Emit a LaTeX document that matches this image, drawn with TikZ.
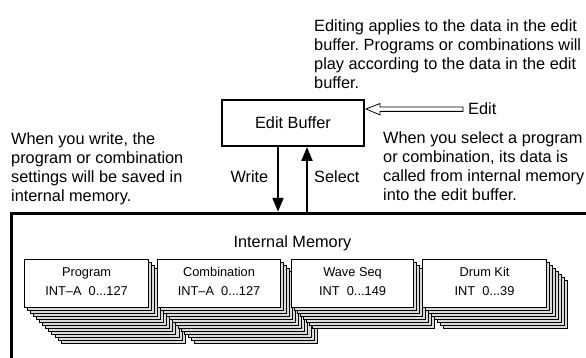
\documentclass[tikz,border=0pt]{standalone}
\usepackage{fontspec}
\setmainfont{Liberation Sans}
\usetikzlibrary{arrows.meta,calc}
\frenchspacing
\begin{document}
\begin{tikzpicture}[x=1pt,y=-1pt,
  txt/.style={font=\fontsize{16.3}{19}\selectfont, align=left, inner sep=0pt, anchor=north west},
  boxlbl/.style={font=\fontsize{16.3}{19}\selectfont, inner sep=0pt},
  ebox/.style={draw, line width=2pt, fill=white, minimum width=142pt, minimum height=46pt, font=\fontsize{16.3}{19}\selectfont},
  card/.style={draw, line width=1pt, fill=gray!30},
  topcard/.style={draw, line width=1.1pt, fill=white, anchor=north west, minimum width=124pt, minimum height=48pt, inner sep=0pt},
  cardtxt/.style={inner sep=0pt, align=center, font=\fontsize{12.8}{19}\selectfont},
  flow/.style={line width=2.2pt, -{Triangle[length=14pt,width=11pt]}},
  frame/.style={line width=3.2pt},
]
\useasboundingbox (0,0) rectangle (586,358);

% texts
\node[txt] (t1) at (314,19) {Editing applies to the data in the edit\\buffer. Programs or combinations will\\play according to the data in the edit\\buffer.};
\node[txt] (t2) at (11,132) {When you write, the\\program or combination\\settings will be saved in\\internal memory.};
\node[txt] (t3) at (383,131) {When you select a program\\or combination, its data is\\called from internal memory\\into the edit buffer.};

% edit buffer
\node[ebox] (eb) at (293,123) {Edit Buffer};

% edit hollow arrow
\coordinate (etip) at ([xshift=1pt]eb.east |- 0,109);
\node[boxlbl, anchor=west] (edit) at (468,109) {Edit};
\draw[line width=0.8pt, fill=white] (etip) -- ++(14,-5.5) -- ++(0,3.5) -- ++(83,0) -- ++(0,4.4) -- ++(-83,0) -- ++(0,3.5) -- cycle;

% memory frame
\coordinate (mtl) at (11.6,213.4);
\coordinate (mtr) at (590,213.4);
\coordinate (mbl) at (11.6,362);
\draw[frame] (mtr) -- (mtl) -- (mbl);
\node[boxlbl] (im) at (292.5,243) {Internal Memory};

% write / select
\coordinate (wtop) at ([xshift=-15pt]eb.south);
\coordinate (stop) at ([xshift=14pt]eb.south);
\coordinate (wbot) at (wtop |- 0,211.8);
\coordinate (sbot) at (stop |- 0,211.8);
\draw[flow] (wtop) -- (wbot);
\draw[flow] (sbot) -- (stop);
\node[boxlbl, anchor=east] (wl) at (268.5,177) {Write};
\node[boxlbl, anchor=west] (sl) at (314,177) {Select};

% card stacks
\foreach \k in {12,...,1} {
  \foreach \cx/\cw/\n in {24/124/12, 157/123/12, 291/122/7, 422/124/7} {
    \ifnum\k>\n\relax\else
      \draw[card] ({\cx+3.1*\k},{259+3.05*\k}) rectangle ++(\cw,48);
    \fi
  }
}
\node[topcard] (prog) at (24,259) {};
\node[topcard, minimum width=123pt] (comb) at (157,259) {};
\node[topcard, minimum width=122pt] (wave) at (291,259) {};
\node[topcard] (drum) at (422,259) {};
\node[cardtxt] (progt) at ([yshift=2pt]prog.center) {Program\\INT–A\ \ 0...127};
\node[cardtxt] (combt) at ([yshift=2pt]comb.center) {Combination\\INT–A\ \ 0...127};
\node[cardtxt] (wavet) at ([yshift=2pt]wave.center) {Wave Seq\\INT\ \ 0...149};
\node[cardtxt] (drumt) at ([yshift=2pt]drum.center) {Drum Kit\\INT\ \ 0...39};
\end{tikzpicture}
\end{document}
